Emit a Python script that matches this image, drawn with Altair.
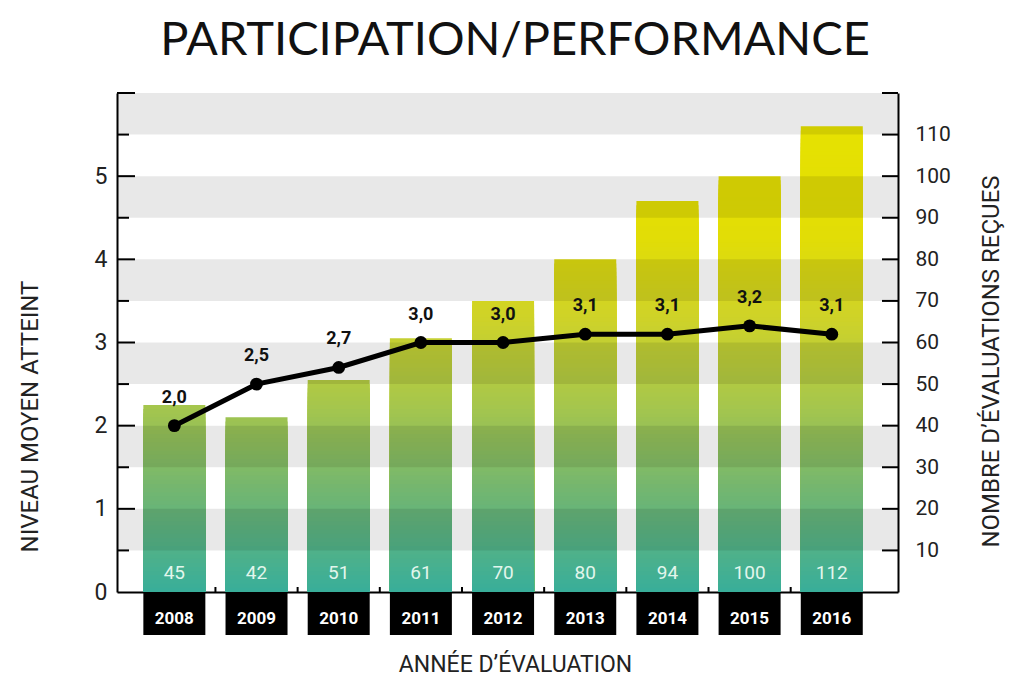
import altair as alt
import pandas as pd

# ---- data ----
years = [2008, 2009, 2010, 2011, 2012, 2013, 2014, 2015, 2016]
counts = [45, 42, 51, 61, 70, 80, 94, 100, 112]          # bars (right axis)
scores = [2.0, 2.5, 2.7, 3.0, 3.0, 3.1, 3.1, 3.2, 3.1]   # line (left axis)

left_labels = [0, 1, 2, 3, 4, 5]
left_major_ticks = [1, 2, 3, 4, 5, 6]
left_minor_ticks = [0.5, 1.5, 2.5, 3.5, 4.5, 5.5]
right_labels = [10, 20, 30, 40, 50, 60, 70, 80, 90, 100, 110]
right_ticks = [10, 20, 30, 40, 50, 60, 70, 80, 90, 100, 110, 120]
band_starts = [0.5, 1.5, 2.5, 3.5, 4.5, 5.5]

TITLE = "PARTICIPATION/PERFORMANCE"
XTITLE = "ANNÉE D’ÉVALUATION"
LTITLE = "NIVEAU MOYEN ATTEINT"
RTITLE = "NOMBRE D’ÉVALUATIONS REÇUES"

# ---- layout / style ----
W, H = 781, 499
X_DOMAIN = [2007.363, 2016.745]
LEFT_DOMAIN = [0, 6]
RIGHT_DOMAIN = [0, 120]
FONT = "Roboto"
TFONT = "Lato"
BAR_W = 62

df = pd.DataFrame({"year": years, "count": counts, "score": scores})

# each bar drawn as overlapping slices so the colour follows the absolute height
rows = []
for yr, c in zip(years, counts):
    for k in range(c, 0, -1):
        rows.append({"year": yr, "hi": k, "lvl": k - 0.5})
seg = pd.DataFrame(rows).sort_values("hi", ascending=False, kind="stable")

xs = alt.Scale(domain=X_DOMAIN, nice=False, zero=False)
ls = alt.Scale(domain=LEFT_DOMAIN, nice=False, zero=False)
rs = alt.Scale(domain=RIGHT_DOMAIN, nice=False, zero=False)

xaxis = alt.Axis(orient="bottom", labels=False, ticks=False, tickSize=0, grid=False,
                 domainColor="black", domainWidth=2, title=XTITLE,
                 titleFont=FONT, titleFontSize=23, titleFontWeight="normal",
                 titleColor="#222", titleY=72, titleX=398, titleBaseline="middle",
                 titleAlign="center")


def X(field):
    return alt.X(field, type="quantitative", scale=xs, axis=xaxis, title=XTITLE)


left_axis = alt.Axis(orient="left", values=left_labels, ticks=False, tickSize=0, grid=False,
                     domainColor="black", domainWidth=2, labelFont=FONT, labelFontSize=23,
                     labelColor="#222", labelPadding=10, labelOverlap=False, labelFlush=False,
                     title=LTITLE, titleFont=FONT, titleFontSize=24, titleFontWeight="normal",
                     titleColor="#222", titleAngle=270, titleX=-87, titleY=323,
                     titleAlign="center", titleBaseline="middle")

right_axis = alt.Axis(orient="right", values=right_labels, ticks=False, tickSize=0, grid=False,
                      domainColor="black", domainWidth=2, labelFont=FONT, labelFontSize=21,
                      labelColor="#222", labelPadding=17, labelOverlap=False, labelFlush=False,
                      title=RTITLE, titleFont=FONT, titleFontSize=24, titleFontWeight="normal",
                      titleColor="#222", titleAngle=270, titleX=93, titleY=268,
                      titleAlign="center", titleBaseline="middle")

bars = alt.Chart(seg).mark_bar(size=BAR_W).encode(
    x=X("year"),
    y=alt.Y("hi:Q", scale=rs, stack=None, axis=right_axis, title=RTITLE),
    color=alt.Color("lvl:Q", legend=None,
                    scale=alt.Scale(domain=[0, 25, 45, 65, 85, 120],
                                    range=["#38ae9a", "#74b66f", "#a6c64c",
                                           "#cdd22a", "#e2dd06", "#e7e300"],
                                    interpolate="rgb")),
)

bands = alt.Chart(pd.DataFrame({"lo": band_starts})).transform_calculate(
    hi="datum.lo + 0.5"
).mark_rect(color="black", opacity=0.09).encode(
    x=alt.value(0), x2=alt.value(W),
    y=alt.Y("lo:Q", scale=ls, axis=left_axis, title=LTITLE),
    y2="hi:Q",
)

bottom_ticks = alt.Chart(df).transform_filter("datum.year < 2016").transform_calculate(
    mid="datum.year + 0.5"
).mark_rule(color="black", strokeWidth=2).encode(
    x=X("mid"), y=alt.value(H - 5), y2=alt.value(H)
)

lt_major = alt.Chart(pd.DataFrame({"v": left_major_ticks})).mark_rule(
    color="black", strokeWidth=2).encode(
    x=alt.value(0), x2=alt.value(18), y=alt.Y("v:Q", scale=ls, axis=None))
lt_minor = alt.Chart(pd.DataFrame({"v": left_minor_ticks})).mark_rule(
    color="black", strokeWidth=2).encode(
    x=alt.value(0), x2=alt.value(12), y=alt.Y("v:Q", scale=ls, axis=None))
rt = alt.Chart(pd.DataFrame({"v": right_ticks})).mark_rule(
    color="black", strokeWidth=2).encode(
    x=alt.value(W - 16), x2=alt.value(W), y=alt.Y("v:Q", scale=rs, axis=None))

base = alt.Chart(df)
line = base.mark_line(color="black", strokeWidth=5).encode(
    x=X("year"), y=alt.Y("score:Q", scale=ls, axis=None))
points = base.mark_point(filled=True, size=165, color="black", opacity=1).encode(
    x=X("year"), y=alt.Y("score:Q", scale=ls, axis=None))
score_labels = base.transform_calculate(
    lab="replace(format(datum.score, '.1f'), '.', ',')"
).mark_text(dy=-28, font=FONT, fontSize=18, fontWeight="bold", color="#111").encode(
    x=X("year"), y=alt.Y("score:Q", scale=ls, axis=None), text="lab:N")

count_labels = base.mark_text(font=FONT, fontSize=19, color="#e2f6ec").encode(
    x=X("year"), y=alt.value(H - 19), text="count:Q")

year_boxes = base.mark_tick(orient="vertical", thickness=BAR_W, size=43,
                            color="black", opacity=1).encode(
    x=X("year"), y=alt.value(H + 21.5))
year_labels = base.mark_text(font=FONT, fontSize=17, fontWeight="bold", color="white").encode(
    x=X("year"), y=alt.value(H + 27), text=alt.Text("year:Q", format="d"))

title = alt.Chart(pd.DataFrame({"t": [TITLE]})).mark_text(
    font=TFONT, fontSize=47, fontWeight="normal", color="#111",
    baseline="alphabetic", align="center").encode(
    x=alt.value(398), y=alt.value(-38), text="t:N")

chart = alt.layer(
    bars, bands, bottom_ticks, lt_major, lt_minor, rt,
    line, points, score_labels, count_labels, year_boxes, year_labels, title,
).resolve_scale(y="independent").properties(
    width=W, height=H,
    autosize=alt.AutoSizeParams(type="none"),
    padding={"left": 109, "top": 85, "right": 108, "bottom": 89},
).configure_view(stroke=None)

chart.save("out.html", embed_options={"renderer": "svg", "actions": False})
